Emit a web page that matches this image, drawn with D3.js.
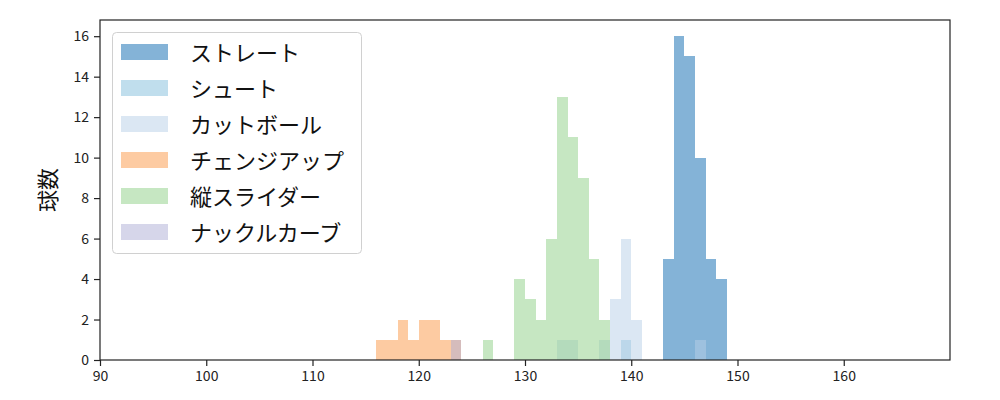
<!DOCTYPE html>
<html><head><meta charset="utf-8">
<script src="https://cdn.jsdelivr.net/npm/d3@7"></script>
<style>body{margin:0;background:#fff}</style>
</head><body>
<svg id="c" width="1000" height="400"></svg>
<script>
// Data: histogram bins (left edge, km/h, width 1) and counts per pitch type
const seriesNames = ["ストレート","シュート","カットボール","チェンジアップ","縦スライダー","ナックルカーブ"];
const straightBins = [143,144,145,146,147,148];
const straightCounts = [5,16,15,10,5,4];
const shootBins = [139];
const shootCounts = [1];
const cutBins = [133,134,137,138,139,140,146];
const cutCounts = [1,1,1,3,6,2,1];
const changeupBins = [116,117,118,119,120,121,122,123];
const changeupCounts = [1,1,2,1,2,2,1,1];
const sliderBins = [126,129,130,131,132,133,134,135,136,137];
const sliderCounts = [1,4,3,2,6,13,11,9,5,2];
const knuckleBins = [123];
const knuckleCounts = [1];
const xTicks = [90,100,110,120,130,140,150,160];
const yTicks = [0,2,4,6,8,10,12,14,16];
const colors = ["rgb(9,103,175)","rgb(129,189,219)","rgb(183,207,231)","rgb(251,151,69)","rgb(141,207,133)","rgb(173,173,213)"];

const series = [
  [straightBins, straightCounts],
  [shootBins, shootCounts],
  [cutBins, cutCounts],
  [changeupBins, changeupCounts],
  [sliderBins, sliderCounts],
  [knuckleBins, knuckleCounts]
];

const L=100, R=950, T=20, B=360;
const x = d3.scaleLinear().domain([90,170]).range([L,R]);
const y = d3.scaleLinear().domain([0,16.8]).range([B,T]);
const svg = d3.select("#c");
const font = "'Noto Sans CJK JP', 'DejaVu Sans', sans-serif";

const g = svg.append("g");
series.forEach(([bins, counts], si) => {
  g.selectAll(null).data(bins.map((b,i)=>({b, c:counts[i]}))).enter()
    .append("rect")
    .attr("x", d => Math.round(x(d.b)))
    .attr("width", d => Math.round(x(d.b+1)) - Math.round(x(d.b)))
    .attr("y", d => y(d.c))
    .attr("height", d => y(0) - y(d.c))
    .attr("shape-rendering","crispEdges")
    .attr("fill", colors[si])
    .attr("fill-opacity", 0.5);
});

// axes
const xAxis = d3.axisBottom(x).tickValues(xTicks).tickSize(6).tickPadding(5).tickFormat(d3.format("d"));
const yAxis = d3.axisLeft(y).tickValues(yTicks).tickSize(6).tickPadding(5).tickFormat(d3.format("d"));
const gx = svg.append("g").attr("transform",`translate(0,${B})`).call(xAxis);
const gy = svg.append("g").attr("transform",`translate(${L},0)`).call(yAxis);
[gx,gy].forEach(a=>{
  a.select(".domain").remove();
  a.selectAll("line").attr("stroke","#222").attr("stroke-width",1.2);
  a.selectAll("text").attr("font-family",font).attr("font-size",14).attr("fill","#222");
});

svg.append("rect").attr("x",L).attr("y",T).attr("width",R-L).attr("height",B-T)
  .attr("fill","none").attr("stroke","#222").attr("stroke-width",1.2);

svg.append("text").attr("transform",`translate(46,${(T+B)/2}) rotate(-90)`)
  .attr("text-anchor","middle").attr("dominant-baseline","central")
  .attr("font-family",font).attr("font-size",22).attr("fill","#111").text("球数");

// legend
const lg = svg.append("g");
lg.append("rect").attr("x",112.5).attr("y",32.5).attr("width",249).attr("height",221)
  .attr("rx",4).attr("fill","#fff").attr("fill-opacity",0.8).attr("stroke","#d0d0d0");
seriesNames.forEach((n,i)=>{
  const cy = 52 + i*36;
  lg.append("rect").attr("x",121).attr("y",cy-8).attr("width",47).attr("height",16)
    .attr("fill",colors[i]).attr("fill-opacity",0.5);
  lg.append("text").attr("x",190).attr("y",cy-1.5).attr("dominant-baseline","central")
    .attr("font-family",font).attr("font-size",22).attr("fill","#111").text(n);
});
</script>
</body></html>
